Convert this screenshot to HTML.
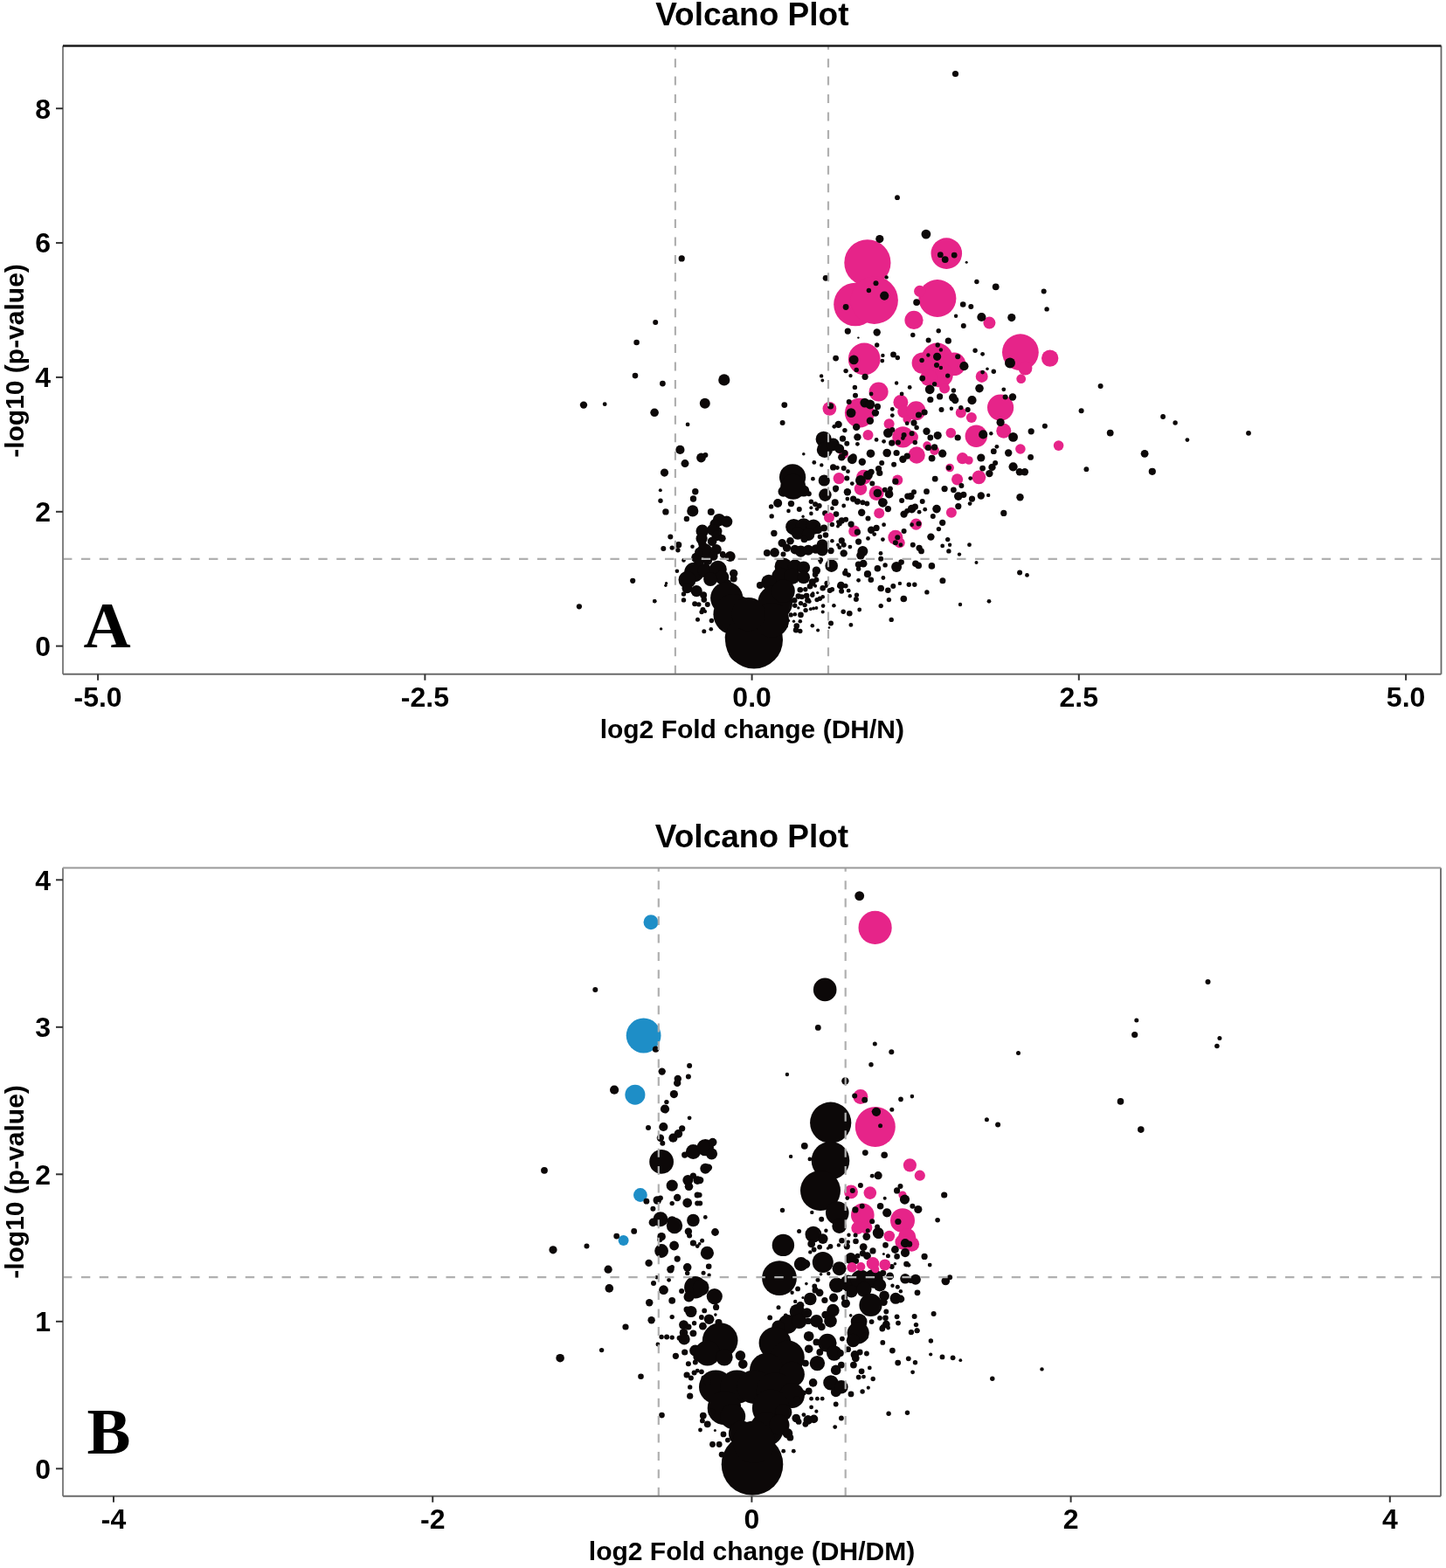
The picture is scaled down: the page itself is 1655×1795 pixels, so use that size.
<!DOCTYPE html>
<html><head><meta charset="utf-8"><title>Volcano Plot</title>
<style>
html,body{margin:0;padding:0;background:#fff;overflow:hidden;width:1655px;height:1795px;}
svg{display:block;}
.dash{stroke:#b0b0b0;stroke-width:2.2;fill:none;}
.ax{stroke:#828282;stroke-width:2;}
.axb{stroke:#6a6a6a;stroke-width:2;}
.axtb{stroke:#999;stroke-width:2;}
.axr{stroke:#666;stroke-width:1.8;}
.axt{stroke:#1a1a1a;stroke-width:2.4;}
.tk{stroke:#333;stroke-width:2;}
text{font-family:"Liberation Sans",Arial,sans-serif;fill:#000;}
.tl{font-size:32px;font-weight:bold;}
.ti{font-size:37px;font-weight:bold;}
.xl{font-size:30px;font-weight:bold;}
.let{font-family:"Liberation Serif","Times New Roman",serif;font-size:75px;font-weight:bold;}
</style></head><body>
<svg width="1655" height="1795" viewBox="0 0 1655 1795">
<circle cx="992.9" cy="300.8" r="26.6" fill="#e62489"/>
<circle cx="979" cy="348.5" r="24.8" fill="#e62489"/>
<circle cx="1000.7" cy="343.7" r="27.2" fill="#e62489"/>
<circle cx="989.2" cy="411" r="18.4" fill="#e62489"/>
<circle cx="1083.3" cy="290.1" r="17.8" fill="#e62489"/>
<circle cx="1072.9" cy="341.5" r="21.5" fill="#e62489"/>
<circle cx="1052.7" cy="333.4" r="6.6" fill="#e62489"/>
<circle cx="1046" cy="366.4" r="10.6" fill="#e62489"/>
<circle cx="1132.4" cy="369.6" r="7" fill="#e62489"/>
<circle cx="1167.9" cy="403.2" r="20.9" fill="#e62489"/>
<circle cx="1173.5" cy="421.6" r="7.9" fill="#e62489"/>
<circle cx="1201.7" cy="410.1" r="9.7" fill="#e62489"/>
<circle cx="1168.7" cy="433.7" r="5.4" fill="#e62489"/>
<circle cx="1123.7" cy="430.9" r="7" fill="#e62489"/>
<circle cx="1072.6" cy="410.7" r="18.1" fill="#e62489"/>
<circle cx="1055.7" cy="415.6" r="12.1" fill="#e62489"/>
<circle cx="1092" cy="416.8" r="13.3" fill="#e62489"/>
<circle cx="1076.3" cy="428.9" r="14.5" fill="#e62489"/>
<circle cx="1063" cy="432.5" r="9.7" fill="#e62489"/>
<circle cx="1081.1" cy="444.6" r="6" fill="#e62489"/>
<circle cx="949.4" cy="467.8" r="7.9" fill="#e62489"/>
<circle cx="983.8" cy="472.6" r="16.9" fill="#e62489"/>
<circle cx="993.5" cy="498" r="6" fill="#e62489"/>
<circle cx="1017.6" cy="485.3" r="6" fill="#e62489"/>
<circle cx="1030.9" cy="460.5" r="8.5" fill="#e62489"/>
<circle cx="1034.6" cy="471.4" r="7.3" fill="#e62489"/>
<circle cx="1038.2" cy="479.9" r="4.8" fill="#e62489"/>
<circle cx="1033.4" cy="500.4" r="12.1" fill="#e62489"/>
<circle cx="965.7" cy="519.8" r="5.4" fill="#e62489"/>
<circle cx="960.2" cy="547.6" r="6.6" fill="#e62489"/>
<circle cx="988.6" cy="546.3" r="8.5" fill="#e62489"/>
<circle cx="985" cy="559.6" r="7.3" fill="#e62489"/>
<circle cx="1003.1" cy="564.5" r="8.5" fill="#e62489"/>
<circle cx="1027.3" cy="549.4" r="6" fill="#e62489"/>
<circle cx="1006.2" cy="587.4" r="6" fill="#e62489"/>
<circle cx="977.8" cy="608" r="6.6" fill="#e62489"/>
<circle cx="1024.9" cy="615.2" r="8.5" fill="#e62489"/>
<circle cx="1029.7" cy="621.3" r="6" fill="#e62489"/>
<circle cx="1048.5" cy="470.2" r="10.9" fill="#e62489"/>
<circle cx="1043.6" cy="500.4" r="7.3" fill="#e62489"/>
<circle cx="1049.1" cy="521" r="9.7" fill="#e62489"/>
<circle cx="1061.1" cy="510.1" r="4.8" fill="#e62489"/>
<circle cx="1069.6" cy="515.5" r="5.4" fill="#e62489"/>
<circle cx="1099.8" cy="472.6" r="6" fill="#e62489"/>
<circle cx="1111.9" cy="478.1" r="6" fill="#e62489"/>
<circle cx="1145.1" cy="466.6" r="15.1" fill="#e62489"/>
<circle cx="1088.3" cy="495.6" r="5.8" fill="#e62489"/>
<circle cx="1117.3" cy="499.2" r="12.7" fill="#e62489"/>
<circle cx="1148.8" cy="493.2" r="8.5" fill="#e62489"/>
<circle cx="1167.9" cy="514" r="5.8" fill="#e62489"/>
<circle cx="1211.6" cy="510.1" r="5.8" fill="#e62489"/>
<circle cx="1101.6" cy="524.6" r="6.6" fill="#e62489"/>
<circle cx="1108.9" cy="527" r="4.8" fill="#e62489"/>
<circle cx="1087.1" cy="535.5" r="4.8" fill="#e62489"/>
<circle cx="1095.6" cy="548.8" r="6.6" fill="#e62489"/>
<circle cx="1120.4" cy="546.3" r="7.9" fill="#e62489"/>
<circle cx="1088.9" cy="586.8" r="6" fill="#e62489"/>
<circle cx="1048.5" cy="600.1" r="6.6" fill="#e62489"/>
<circle cx="1005.6" cy="448.5" r="11" fill="#e62489"/>
<circle cx="780.2" cy="295.9" r="3.6" fill="#0c0808"/>
<circle cx="750.2" cy="369" r="3" fill="#0c0808"/>
<circle cx="728.6" cy="392" r="3.3" fill="#0c0808"/>
<circle cx="727" cy="430.1" r="3.3" fill="#0c0808"/>
<circle cx="758.4" cy="439.1" r="3.4" fill="#0c0808"/>
<circle cx="828.8" cy="434.9" r="6.6" fill="#0c0808"/>
<circle cx="1006.8" cy="273.6" r="4.6" fill="#0c0808"/>
<circle cx="945.1" cy="318.3" r="3.4" fill="#0c0808"/>
<circle cx="1014.6" cy="317.4" r="2.2" fill="#0c0808"/>
<circle cx="1002.5" cy="324.3" r="3" fill="#0c0808"/>
<circle cx="994.4" cy="332.5" r="2.7" fill="#0c0808"/>
<circle cx="1012.2" cy="338.6" r="5.1" fill="#0c0808"/>
<circle cx="968.1" cy="351.5" r="3.4" fill="#0c0808"/>
<circle cx="970.3" cy="379.1" r="3.6" fill="#0c0808"/>
<circle cx="1003.7" cy="380.5" r="4.2" fill="#0c0808"/>
<circle cx="982.4" cy="386.6" r="1.2" fill="#0c0808"/>
<circle cx="1003.7" cy="395" r="2.7" fill="#0c0808"/>
<circle cx="956.6" cy="410.1" r="3.4" fill="#0c0808"/>
<circle cx="977.2" cy="411.9" r="5.4" fill="#0c0808"/>
<circle cx="1010.4" cy="406.9" r="2.2" fill="#0c0808"/>
<circle cx="1009.8" cy="413.1" r="2.4" fill="#0c0808"/>
<circle cx="1022.5" cy="405.9" r="3.4" fill="#0c0808"/>
<circle cx="1027.3" cy="409.5" r="2.7" fill="#0c0808"/>
<circle cx="968.1" cy="424.6" r="2.7" fill="#0c0808"/>
<circle cx="980.2" cy="423.4" r="2.7" fill="#0c0808"/>
<circle cx="973.5" cy="430.1" r="2.2" fill="#0c0808"/>
<circle cx="990.1" cy="431.3" r="3.6" fill="#0c0808"/>
<circle cx="940.1" cy="430.4" r="2.2" fill="#0c0808"/>
<circle cx="941.3" cy="435.5" r="1.9" fill="#0c0808"/>
<circle cx="978.4" cy="443.4" r="2.7" fill="#0c0808"/>
<circle cx="1026.1" cy="438.5" r="2.2" fill="#0c0808"/>
<circle cx="1059.9" cy="268.1" r="5.4" fill="#0c0808"/>
<circle cx="1076.3" cy="291.7" r="3.4" fill="#0c0808"/>
<circle cx="1081.7" cy="297.1" r="3.9" fill="#0c0808"/>
<circle cx="1092.2" cy="292.1" r="3.4" fill="#0c0808"/>
<circle cx="1106.2" cy="300.2" r="1.5" fill="#0c0808"/>
<circle cx="1117.9" cy="322.5" r="2.7" fill="#0c0808"/>
<circle cx="1139.7" cy="328.3" r="3.9" fill="#0c0808"/>
<circle cx="1194.7" cy="333.4" r="3" fill="#0c0808"/>
<circle cx="1198.1" cy="353.9" r="2.7" fill="#0c0808"/>
<circle cx="1049.1" cy="346.1" r="3.9" fill="#0c0808"/>
<circle cx="1102.2" cy="348.5" r="3.3" fill="#0c0808"/>
<circle cx="1111.3" cy="350.9" r="3" fill="#0c0808"/>
<circle cx="1094.1" cy="361.8" r="2.2" fill="#0c0808"/>
<circle cx="1123.4" cy="363" r="5.1" fill="#0c0808"/>
<circle cx="1157.8" cy="363.6" r="4.6" fill="#0c0808"/>
<circle cx="1102.8" cy="373" r="3" fill="#0c0808"/>
<circle cx="1074.2" cy="378.7" r="2.7" fill="#0c0808"/>
<circle cx="1044.8" cy="383.5" r="2.7" fill="#0c0808"/>
<circle cx="1062.6" cy="389.6" r="3" fill="#0c0808"/>
<circle cx="1085.3" cy="390.2" r="3.6" fill="#0c0808"/>
<circle cx="1073.2" cy="395" r="2.7" fill="#0c0808"/>
<circle cx="1076.9" cy="400.5" r="2.2" fill="#0c0808"/>
<circle cx="1072.6" cy="408.3" r="4.6" fill="#0c0808"/>
<circle cx="1062.4" cy="406.5" r="2.2" fill="#0c0808"/>
<circle cx="1055.1" cy="412.5" r="2.7" fill="#0c0808"/>
<circle cx="1096.2" cy="408.3" r="3" fill="#0c0808"/>
<circle cx="1072" cy="418" r="3" fill="#0c0808"/>
<circle cx="1076.9" cy="421" r="2.2" fill="#0c0808"/>
<circle cx="1103.4" cy="419.2" r="5.1" fill="#0c0808"/>
<circle cx="1084.7" cy="430.1" r="2.7" fill="#0c0808"/>
<circle cx="1055.7" cy="433.1" r="3.4" fill="#0c0808"/>
<circle cx="1116.1" cy="401.3" r="2.7" fill="#0c0808"/>
<circle cx="1124.6" cy="405.3" r="2.4" fill="#0c0808"/>
<circle cx="1130" cy="422.2" r="1.8" fill="#0c0808"/>
<circle cx="1137.3" cy="425.2" r="2.7" fill="#0c0808"/>
<circle cx="1124.6" cy="426.1" r="2.4" fill="#0c0808"/>
<circle cx="1156" cy="415.6" r="6" fill="#0c0808"/>
<circle cx="1064.2" cy="445.8" r="5.4" fill="#0c0808"/>
<circle cx="1069.6" cy="439.7" r="2.7" fill="#0c0808"/>
<circle cx="1091.4" cy="447" r="2.7" fill="#0c0808"/>
<circle cx="1121" cy="444.6" r="4.8" fill="#0c0808"/>
<circle cx="1148.8" cy="445.8" r="2.4" fill="#0c0808"/>
<circle cx="1041.2" cy="443.4" r="2.4" fill="#0c0808"/>
<circle cx="1259.6" cy="442.1" r="3" fill="#0c0808"/>
<circle cx="1093.5" cy="84.5" r="3.6" fill="#0c0808"/>
<circle cx="1027" cy="226.2" r="2.9" fill="#0c0808"/>
<circle cx="668" cy="463.6" r="4.2" fill="#0c0808"/>
<circle cx="692.2" cy="462.7" r="2.4" fill="#0c0808"/>
<circle cx="749.1" cy="472.3" r="4.8" fill="#0c0808"/>
<circle cx="806.8" cy="461.8" r="6" fill="#0c0808"/>
<circle cx="787.1" cy="485.9" r="2.4" fill="#0c0808"/>
<circle cx="778.4" cy="514.9" r="5.1" fill="#0c0808"/>
<circle cx="802.5" cy="524" r="5.4" fill="#0c0808"/>
<circle cx="807.4" cy="521" r="3" fill="#0c0808"/>
<circle cx="784" cy="530.6" r="4.5" fill="#0c0808"/>
<circle cx="760.5" cy="541.1" r="4.6" fill="#0c0808"/>
<circle cx="821.8" cy="607.9" r="4.7" fill="#0c0808"/>
<circle cx="818.4" cy="603.2" r="4.7" fill="#0c0808"/>
<circle cx="755.8" cy="561.3" r="2" fill="#0c0808"/>
<circle cx="756" cy="573.3" r="2.7" fill="#0c0808"/>
<circle cx="761.9" cy="585.9" r="3.7" fill="#0c0808"/>
<circle cx="795.8" cy="562.7" r="3.7" fill="#0c0808"/>
<circle cx="793.5" cy="571" r="3.7" fill="#0c0808"/>
<circle cx="792.8" cy="584.9" r="6.6" fill="#0c0808"/>
<circle cx="785.9" cy="594" r="3.2" fill="#0c0808"/>
<circle cx="813.8" cy="585.9" r="4" fill="#0c0808"/>
<circle cx="767.3" cy="614.5" r="3" fill="#0c0808"/>
<circle cx="759.3" cy="628.1" r="3" fill="#0c0808"/>
<circle cx="769.2" cy="627.1" r="2.7" fill="#0c0808"/>
<circle cx="776.6" cy="623.8" r="3.7" fill="#0c0808"/>
<circle cx="775.9" cy="629.8" r="2.7" fill="#0c0808"/>
<circle cx="792.5" cy="625.8" r="2.3" fill="#0c0808"/>
<circle cx="782.5" cy="641.4" r="2.3" fill="#0c0808"/>
<circle cx="774.9" cy="653.7" r="2.3" fill="#0c0808"/>
<circle cx="762.6" cy="667.7" r="1.7" fill="#0c0808"/>
<circle cx="823.1" cy="595.2" r="7.3" fill="#0c0808"/>
<circle cx="831.7" cy="597.2" r="6.6" fill="#0c0808"/>
<circle cx="818.4" cy="599.9" r="6" fill="#0c0808"/>
<circle cx="803.8" cy="607.9" r="7.3" fill="#0c0808"/>
<circle cx="815.8" cy="606.5" r="6.6" fill="#0c0808"/>
<circle cx="820.4" cy="613.2" r="6" fill="#0c0808"/>
<circle cx="803.1" cy="616.5" r="6.6" fill="#0c0808"/>
<circle cx="826.4" cy="616.2" r="4.3" fill="#0c0808"/>
<circle cx="815.1" cy="619.8" r="5.3" fill="#0c0808"/>
<circle cx="803.8" cy="622.5" r="4.7" fill="#0c0808"/>
<circle cx="806.5" cy="630.5" r="8.6" fill="#0c0808"/>
<circle cx="819.8" cy="629.1" r="6" fill="#0c0808"/>
<circle cx="797.2" cy="638.4" r="6" fill="#0c0808"/>
<circle cx="816.4" cy="636.4" r="5.3" fill="#0c0808"/>
<circle cx="827.7" cy="635.8" r="3.3" fill="#0c0808"/>
<circle cx="835.7" cy="637.1" r="6" fill="#0c0808"/>
<circle cx="794.5" cy="655" r="11.3" fill="#0c0808"/>
<circle cx="786.5" cy="663.7" r="10" fill="#0c0808"/>
<circle cx="806.5" cy="653.1" r="8" fill="#0c0808"/>
<circle cx="821.8" cy="651.7" r="10" fill="#0c0808"/>
<circle cx="826.4" cy="661" r="8" fill="#0c0808"/>
<circle cx="813.1" cy="663" r="8" fill="#0c0808"/>
<circle cx="839.7" cy="656.4" r="4.7" fill="#0c0808"/>
<circle cx="839.7" cy="662.4" r="4" fill="#0c0808"/>
<circle cx="833.1" cy="667.7" r="4" fill="#0c0808"/>
<circle cx="827.1" cy="634.4" r="3.3" fill="#0c0808"/>
<circle cx="809.8" cy="641.8" r="5.3" fill="#0c0808"/>
<circle cx="801.1" cy="643.1" r="4.7" fill="#0c0808"/>
<circle cx="799.8" cy="631.8" r="4.7" fill="#0c0808"/>
<circle cx="919.8" cy="562" r="6.6" fill="#0c0808"/>
<circle cx="896.5" cy="562.7" r="6" fill="#0c0808"/>
<circle cx="944.4" cy="566.6" r="7.3" fill="#0c0808"/>
<circle cx="956.3" cy="560.7" r="2.7" fill="#0c0808"/>
<circle cx="890.2" cy="576" r="5" fill="#0c0808"/>
<circle cx="905.5" cy="576.6" r="3.7" fill="#0c0808"/>
<circle cx="914.8" cy="582.9" r="3" fill="#0c0808"/>
<circle cx="882.6" cy="579.9" r="2.7" fill="#0c0808"/>
<circle cx="902.5" cy="584.9" r="2.3" fill="#0c0808"/>
<circle cx="883.2" cy="590.9" r="2.7" fill="#0c0808"/>
<circle cx="925.8" cy="565.3" r="3" fill="#0c0808"/>
<circle cx="928.4" cy="574.3" r="2.7" fill="#0c0808"/>
<circle cx="933.1" cy="577.3" r="3" fill="#0c0808"/>
<circle cx="937.7" cy="578.9" r="3" fill="#0c0808"/>
<circle cx="935.1" cy="582.6" r="2.3" fill="#0c0808"/>
<circle cx="928.4" cy="581.3" r="2" fill="#0c0808"/>
<circle cx="928.4" cy="587.9" r="2.3" fill="#0c0808"/>
<circle cx="919.1" cy="591.2" r="1.7" fill="#0c0808"/>
<circle cx="944.4" cy="587.6" r="3.3" fill="#0c0808"/>
<circle cx="957" cy="588.6" r="3.3" fill="#0c0808"/>
<circle cx="955.7" cy="575.3" r="4" fill="#0c0808"/>
<circle cx="952.4" cy="581.9" r="2.3" fill="#0c0808"/>
<circle cx="952.4" cy="600.5" r="2.7" fill="#0c0808"/>
<circle cx="959" cy="597.2" r="2" fill="#0c0808"/>
<circle cx="959" cy="602.5" r="2" fill="#0c0808"/>
<circle cx="908.5" cy="603.2" r="9.3" fill="#0c0808"/>
<circle cx="919.8" cy="602.5" r="9.3" fill="#0c0808"/>
<circle cx="931.1" cy="603.2" r="8.6" fill="#0c0808"/>
<circle cx="913.1" cy="610.5" r="7.3" fill="#0c0808"/>
<circle cx="925.1" cy="611.8" r="7.3" fill="#0c0808"/>
<circle cx="936.4" cy="606.5" r="4.7" fill="#0c0808"/>
<circle cx="943.1" cy="604.5" r="4" fill="#0c0808"/>
<circle cx="885.9" cy="610.5" r="3.7" fill="#0c0808"/>
<circle cx="904.5" cy="619.2" r="4.3" fill="#0c0808"/>
<circle cx="920.5" cy="617.2" r="4" fill="#0c0808"/>
<circle cx="938.4" cy="614.5" r="2.7" fill="#0c0808"/>
<circle cx="945" cy="612.5" r="3.3" fill="#0c0808"/>
<circle cx="952.4" cy="619.2" r="2.3" fill="#0c0808"/>
<circle cx="895.2" cy="621.8" r="4.7" fill="#0c0808"/>
<circle cx="900.5" cy="627.1" r="4.7" fill="#0c0808"/>
<circle cx="909.8" cy="629.1" r="5.3" fill="#0c0808"/>
<circle cx="916.5" cy="631.1" r="6.6" fill="#0c0808"/>
<circle cx="925.1" cy="629.8" r="6" fill="#0c0808"/>
<circle cx="933.7" cy="628.5" r="5.3" fill="#0c0808"/>
<circle cx="941.1" cy="623.8" r="6.6" fill="#0c0808"/>
<circle cx="941.1" cy="629.8" r="6.6" fill="#0c0808"/>
<circle cx="951" cy="630.5" r="3.7" fill="#0c0808"/>
<circle cx="959" cy="623.8" r="2" fill="#0c0808"/>
<circle cx="886.6" cy="632.4" r="5.3" fill="#0c0808"/>
<circle cx="877.9" cy="633.1" r="4" fill="#0c0808"/>
<circle cx="896.5" cy="634.4" r="3" fill="#0c0808"/>
<circle cx="939.1" cy="641.1" r="3" fill="#0c0808"/>
<circle cx="939.1" cy="644.1" r="1.7" fill="#0c0808"/>
<circle cx="951.7" cy="647.7" r="7.3" fill="#0c0808"/>
<circle cx="896.5" cy="648.4" r="10" fill="#0c0808"/>
<circle cx="909.8" cy="648.4" r="8" fill="#0c0808"/>
<circle cx="919.8" cy="649.7" r="7.3" fill="#0c0808"/>
<circle cx="893.2" cy="659.7" r="10" fill="#0c0808"/>
<circle cx="906.5" cy="659.7" r="9.3" fill="#0c0808"/>
<circle cx="919.8" cy="661" r="7.3" fill="#0c0808"/>
<circle cx="879.9" cy="666.3" r="8.6" fill="#0c0808"/>
<circle cx="869.9" cy="670" r="4" fill="#0c0808"/>
<circle cx="929.8" cy="666.3" r="4" fill="#0c0808"/>
<circle cx="934.4" cy="653.1" r="4.7" fill="#0c0808"/>
<circle cx="933.1" cy="657.7" r="3.3" fill="#0c0808"/>
<circle cx="934.4" cy="663.7" r="3" fill="#0c0808"/>
<circle cx="931.1" cy="669" r="2" fill="#0c0808"/>
<circle cx="946.4" cy="667.7" r="3" fill="#0c0808"/>
<circle cx="786.5" cy="673.3" r="6" fill="#0c0808"/>
<circle cx="797.2" cy="676.6" r="6.6" fill="#0c0808"/>
<circle cx="805.1" cy="681.3" r="4" fill="#0c0808"/>
<circle cx="805.8" cy="686.6" r="3.3" fill="#0c0808"/>
<circle cx="782.5" cy="680" r="2.7" fill="#0c0808"/>
<circle cx="782.5" cy="686.9" r="2.7" fill="#0c0808"/>
<circle cx="795.2" cy="691.3" r="3" fill="#0c0808"/>
<circle cx="799.8" cy="691.9" r="2.7" fill="#0c0808"/>
<circle cx="809.8" cy="691.9" r="3" fill="#0c0808"/>
<circle cx="804.5" cy="697.9" r="3" fill="#0c0808"/>
<circle cx="803.1" cy="700.6" r="2.7" fill="#0c0808"/>
<circle cx="807.1" cy="699.9" r="2" fill="#0c0808"/>
<circle cx="798.5" cy="709.2" r="2.5" fill="#0c0808"/>
<circle cx="814.4" cy="710.5" r="2.7" fill="#0c0808"/>
<circle cx="813.8" cy="720.2" r="2.3" fill="#0c0808"/>
<circle cx="805.8" cy="722.8" r="2.5" fill="#0c0808"/>
<circle cx="749.3" cy="688.3" r="2.3" fill="#0c0808"/>
<circle cx="756.6" cy="719.9" r="1.7" fill="#0c0808"/>
<circle cx="761.9" cy="670.3" r="1.7" fill="#0c0808"/>
<circle cx="841" cy="676" r="4" fill="#0c0808"/>
<circle cx="831.7" cy="684.6" r="18.6" fill="#0c0808"/>
<circle cx="839.7" cy="703.2" r="23.3" fill="#0c0808"/>
<circle cx="843" cy="729.8" r="13.3" fill="#0c0808"/>
<circle cx="849.7" cy="743.1" r="16.6" fill="#0c0808"/>
<circle cx="863" cy="732.5" r="33" fill="#0c0808"/>
<circle cx="887.2" cy="689.9" r="19.9" fill="#0c0808"/>
<circle cx="883.2" cy="709.9" r="19.9" fill="#0c0808"/>
<circle cx="856.6" cy="703.2" r="19.3" fill="#0c0808"/>
<circle cx="896.5" cy="676.6" r="13.3" fill="#0c0808"/>
<circle cx="915.8" cy="675.3" r="3.3" fill="#0c0808"/>
<circle cx="921.8" cy="674.7" r="2.7" fill="#0c0808"/>
<circle cx="927.1" cy="671.3" r="3.3" fill="#0c0808"/>
<circle cx="933.1" cy="670.7" r="2" fill="#0c0808"/>
<circle cx="941.7" cy="673.3" r="3.3" fill="#0c0808"/>
<circle cx="945.7" cy="671" r="2" fill="#0c0808"/>
<circle cx="949.7" cy="676" r="3" fill="#0c0808"/>
<circle cx="952.4" cy="674.7" r="2.7" fill="#0c0808"/>
<circle cx="959.7" cy="671.3" r="1.7" fill="#0c0808"/>
<circle cx="935.7" cy="678.6" r="1.7" fill="#0c0808"/>
<circle cx="929.8" cy="681.3" r="2.7" fill="#0c0808"/>
<circle cx="930.4" cy="679.3" r="2" fill="#0c0808"/>
<circle cx="913.8" cy="682.6" r="3.3" fill="#0c0808"/>
<circle cx="917.8" cy="683.3" r="3" fill="#0c0808"/>
<circle cx="923.1" cy="682" r="3.3" fill="#0c0808"/>
<circle cx="924.4" cy="687.3" r="3.3" fill="#0c0808"/>
<circle cx="909.2" cy="687.3" r="3.3" fill="#0c0808"/>
<circle cx="916.5" cy="690.6" r="2.7" fill="#0c0808"/>
<circle cx="921.1" cy="692.6" r="2.7" fill="#0c0808"/>
<circle cx="926.4" cy="688.6" r="2.3" fill="#0c0808"/>
<circle cx="909.8" cy="693.3" r="2.7" fill="#0c0808"/>
<circle cx="913.8" cy="695.9" r="1.7" fill="#0c0808"/>
<circle cx="935.1" cy="686.6" r="2.7" fill="#0c0808"/>
<circle cx="938.4" cy="685.3" r="2.7" fill="#0c0808"/>
<circle cx="941.7" cy="683.3" r="2.3" fill="#0c0808"/>
<circle cx="927.8" cy="697.3" r="2" fill="#0c0808"/>
<circle cx="931.1" cy="696.6" r="2" fill="#0c0808"/>
<circle cx="934.4" cy="695.9" r="2" fill="#0c0808"/>
<circle cx="922.1" cy="698.6" r="2.7" fill="#0c0808"/>
<circle cx="942.1" cy="693.6" r="2.3" fill="#0c0808"/>
<circle cx="941.7" cy="700.6" r="2" fill="#0c0808"/>
<circle cx="954.4" cy="693.3" r="2.3" fill="#0c0808"/>
<circle cx="905.2" cy="703.9" r="2.7" fill="#0c0808"/>
<circle cx="909.8" cy="703.2" r="2.3" fill="#0c0808"/>
<circle cx="916.5" cy="703.9" r="3.3" fill="#0c0808"/>
<circle cx="915.8" cy="711.2" r="2.3" fill="#0c0808"/>
<circle cx="908.5" cy="711.2" r="1.7" fill="#0c0808"/>
<circle cx="902.5" cy="710.5" r="1.7" fill="#0c0808"/>
<circle cx="911.8" cy="716.5" r="3.3" fill="#0c0808"/>
<circle cx="911.1" cy="721.2" r="3.3" fill="#0c0808"/>
<circle cx="915.8" cy="722.5" r="2.7" fill="#0c0808"/>
<circle cx="899.2" cy="716.5" r="2.7" fill="#0c0808"/>
<circle cx="929.8" cy="716.2" r="2.3" fill="#0c0808"/>
<circle cx="936.1" cy="721.5" r="2" fill="#0c0808"/>
<circle cx="951" cy="713.5" r="3" fill="#0c0808"/>
<circle cx="949" cy="718.5" r="1.3" fill="#0c0808"/>
<circle cx="950.6" cy="464.8" r="3.6" fill="#0c0808"/>
<circle cx="897.8" cy="463.6" r="3.4" fill="#0c0808"/>
<circle cx="895.6" cy="484.1" r="3" fill="#0c0808"/>
<circle cx="979" cy="452.7" r="3" fill="#0c0808"/>
<circle cx="997.1" cy="450.9" r="2.4" fill="#0c0808"/>
<circle cx="1032.1" cy="450.9" r="2.4" fill="#0c0808"/>
<circle cx="971.7" cy="459.9" r="3" fill="#0c0808"/>
<circle cx="989.8" cy="461.1" r="5.4" fill="#0c0808"/>
<circle cx="995.9" cy="463" r="5.4" fill="#0c0808"/>
<circle cx="1004.4" cy="465.4" r="3.6" fill="#0c0808"/>
<circle cx="974.1" cy="472.6" r="5.4" fill="#0c0808"/>
<circle cx="1001.9" cy="472.6" r="4.2" fill="#0c0808"/>
<circle cx="995.9" cy="481.7" r="4.2" fill="#0c0808"/>
<circle cx="980.2" cy="488.9" r="4.2" fill="#0c0808"/>
<circle cx="1038.2" cy="484.7" r="2.4" fill="#0c0808"/>
<circle cx="1021.3" cy="468.4" r="2.4" fill="#0c0808"/>
<circle cx="1021.3" cy="475.6" r="2.4" fill="#0c0808"/>
<circle cx="959.6" cy="485.9" r="4.2" fill="#0c0808"/>
<circle cx="954.8" cy="488.3" r="2.4" fill="#0c0808"/>
<circle cx="966.9" cy="492.6" r="2.7" fill="#0c0808"/>
<circle cx="981.4" cy="500.4" r="4.2" fill="#0c0808"/>
<circle cx="981.4" cy="508.3" r="2.4" fill="#0c0808"/>
<circle cx="964.5" cy="502.2" r="3.6" fill="#0c0808"/>
<circle cx="969.3" cy="507.7" r="3" fill="#0c0808"/>
<circle cx="942.7" cy="502.8" r="9.1" fill="#0c0808"/>
<circle cx="943.9" cy="514.9" r="9.1" fill="#0c0808"/>
<circle cx="953.6" cy="508.9" r="7.3" fill="#0c0808"/>
<circle cx="960.8" cy="513.7" r="5.4" fill="#0c0808"/>
<circle cx="963.3" cy="523.4" r="4.2" fill="#0c0808"/>
<circle cx="966.9" cy="518.5" r="3.6" fill="#0c0808"/>
<circle cx="919.8" cy="519.8" r="1.8" fill="#0c0808"/>
<circle cx="1003.1" cy="503.4" r="2.4" fill="#0c0808"/>
<circle cx="1011.6" cy="505.3" r="2.4" fill="#0c0808"/>
<circle cx="1016.4" cy="495.6" r="5.4" fill="#0c0808"/>
<circle cx="1021.3" cy="492" r="3" fill="#0c0808"/>
<circle cx="1020.7" cy="507.1" r="3.6" fill="#0c0808"/>
<circle cx="1027.9" cy="506.5" r="3" fill="#0c0808"/>
<circle cx="1034.6" cy="498" r="3" fill="#0c0808"/>
<circle cx="1033.4" cy="501.6" r="2.4" fill="#0c0808"/>
<circle cx="996.5" cy="519.2" r="4.8" fill="#0c0808"/>
<circle cx="1015.2" cy="518.5" r="4.8" fill="#0c0808"/>
<circle cx="1026.1" cy="518.5" r="3.6" fill="#0c0808"/>
<circle cx="975.3" cy="525.8" r="5.4" fill="#0c0808"/>
<circle cx="976.6" cy="523.4" r="4.2" fill="#0c0808"/>
<circle cx="986.8" cy="528.8" r="4.2" fill="#0c0808"/>
<circle cx="1009.2" cy="530" r="3" fill="#0c0808"/>
<circle cx="1023.1" cy="531.8" r="3" fill="#0c0808"/>
<circle cx="1033.4" cy="525.8" r="4.2" fill="#0c0808"/>
<circle cx="1038.2" cy="522.2" r="3.6" fill="#0c0808"/>
<circle cx="931.8" cy="529.4" r="2.4" fill="#0c0808"/>
<circle cx="940.3" cy="532.4" r="2.2" fill="#0c0808"/>
<circle cx="953.6" cy="534.9" r="3.6" fill="#0c0808"/>
<circle cx="958.4" cy="535.5" r="2.4" fill="#0c0808"/>
<circle cx="965.7" cy="536.1" r="3" fill="#0c0808"/>
<circle cx="970.5" cy="539.7" r="2.4" fill="#0c0808"/>
<circle cx="907.1" cy="546.3" r="15.1" fill="#0c0808"/>
<circle cx="907.7" cy="557.2" r="14.5" fill="#0c0808"/>
<circle cx="930.4" cy="548.2" r="2.4" fill="#0c0808"/>
<circle cx="943.3" cy="550" r="6.6" fill="#0c0808"/>
<circle cx="956.6" cy="559" r="3.6" fill="#0c0808"/>
<circle cx="969.3" cy="547.6" r="3" fill="#0c0808"/>
<circle cx="975.3" cy="553.6" r="2.4" fill="#0c0808"/>
<circle cx="985" cy="550" r="6" fill="#0c0808"/>
<circle cx="993.5" cy="543.9" r="5.4" fill="#0c0808"/>
<circle cx="997.1" cy="540.3" r="3.6" fill="#0c0808"/>
<circle cx="998.3" cy="553.6" r="3" fill="#0c0808"/>
<circle cx="1005.6" cy="536.7" r="3.6" fill="#0c0808"/>
<circle cx="1006.8" cy="541.5" r="3.6" fill="#0c0808"/>
<circle cx="1024.9" cy="551.2" r="3.6" fill="#0c0808"/>
<circle cx="969.9" cy="563.3" r="4.2" fill="#0c0808"/>
<circle cx="969.9" cy="571.1" r="2.4" fill="#0c0808"/>
<circle cx="976.6" cy="571.1" r="3.6" fill="#0c0808"/>
<circle cx="981.4" cy="574.1" r="3.6" fill="#0c0808"/>
<circle cx="987.4" cy="575.3" r="3" fill="#0c0808"/>
<circle cx="992.3" cy="576.6" r="3" fill="#0c0808"/>
<circle cx="1004.4" cy="564.5" r="4.8" fill="#0c0808"/>
<circle cx="1010.4" cy="575.3" r="5.4" fill="#0c0808"/>
<circle cx="1012.8" cy="560.8" r="3" fill="#0c0808"/>
<circle cx="1018.9" cy="559.6" r="3" fill="#0c0808"/>
<circle cx="1017.6" cy="565.7" r="4.8" fill="#0c0808"/>
<circle cx="1016.4" cy="582.6" r="3.6" fill="#0c0808"/>
<circle cx="1032.1" cy="572.9" r="3" fill="#0c0808"/>
<circle cx="1038.8" cy="568.1" r="3.6" fill="#0c0808"/>
<circle cx="986.2" cy="586.8" r="4.2" fill="#0c0808"/>
<circle cx="993.5" cy="593.5" r="3" fill="#0c0808"/>
<circle cx="965.7" cy="579" r="2.4" fill="#0c0808"/>
<circle cx="974.1" cy="600.1" r="3.6" fill="#0c0808"/>
<circle cx="963.3" cy="595.9" r="3.6" fill="#0c0808"/>
<circle cx="960.8" cy="599.5" r="3" fill="#0c0808"/>
<circle cx="997.1" cy="606.8" r="4.2" fill="#0c0808"/>
<circle cx="1003.1" cy="604.4" r="3.6" fill="#0c0808"/>
<circle cx="1000.7" cy="611.6" r="2.4" fill="#0c0808"/>
<circle cx="1011.6" cy="600.7" r="2.4" fill="#0c0808"/>
<circle cx="1034.6" cy="588.6" r="4.2" fill="#0c0808"/>
<circle cx="1038.2" cy="585" r="3" fill="#0c0808"/>
<circle cx="1034.6" cy="608" r="3" fill="#0c0808"/>
<circle cx="981.4" cy="609.2" r="3.6" fill="#0c0808"/>
<circle cx="982.6" cy="620.1" r="3.6" fill="#0c0808"/>
<circle cx="993.5" cy="616.4" r="2.4" fill="#0c0808"/>
<circle cx="1010.4" cy="617.6" r="2.4" fill="#0c0808"/>
<circle cx="1027.3" cy="615.2" r="3" fill="#0c0808"/>
<circle cx="1024.9" cy="621.3" r="3" fill="#0c0808"/>
<circle cx="1030.9" cy="623.7" r="2.4" fill="#0c0808"/>
<circle cx="963.3" cy="618.9" r="3.6" fill="#0c0808"/>
<circle cx="965.7" cy="623.7" r="3" fill="#0c0808"/>
<circle cx="960.8" cy="626.7" r="2.4" fill="#0c0808"/>
<circle cx="972.9" cy="626.1" r="2.4" fill="#0c0808"/>
<circle cx="987.4" cy="630.9" r="6" fill="#0c0808"/>
<circle cx="985" cy="635.8" r="4.8" fill="#0c0808"/>
<circle cx="965.7" cy="633.4" r="4.2" fill="#0c0808"/>
<circle cx="1008" cy="633.4" r="2.4" fill="#0c0808"/>
<circle cx="968.1" cy="594.7" r="3" fill="#0c0808"/>
<circle cx="1064.8" cy="457.5" r="3.6" fill="#0c0808"/>
<circle cx="1075.6" cy="453.9" r="3.6" fill="#0c0808"/>
<circle cx="1090.8" cy="455.1" r="4.8" fill="#0c0808"/>
<circle cx="1093.2" cy="458.1" r="4.2" fill="#0c0808"/>
<circle cx="1112.5" cy="458.1" r="5.1" fill="#0c0808"/>
<circle cx="1150.6" cy="454.5" r="3" fill="#0c0808"/>
<circle cx="1159" cy="454.5" r="4.2" fill="#0c0808"/>
<circle cx="1077.5" cy="469" r="3" fill="#0c0808"/>
<circle cx="1088.9" cy="467.8" r="2.2" fill="#0c0808"/>
<circle cx="1099.8" cy="466.6" r="2.7" fill="#0c0808"/>
<circle cx="1107.7" cy="469" r="3" fill="#0c0808"/>
<circle cx="1051.5" cy="475" r="3.6" fill="#0c0808"/>
<circle cx="1058.1" cy="472" r="3.6" fill="#0c0808"/>
<circle cx="1046" cy="484.1" r="3.6" fill="#0c0808"/>
<circle cx="1049.1" cy="489.5" r="2.7" fill="#0c0808"/>
<circle cx="1060.5" cy="493.8" r="4.2" fill="#0c0808"/>
<circle cx="1073.2" cy="498.6" r="4.6" fill="#0c0808"/>
<circle cx="1064.8" cy="501" r="3.4" fill="#0c0808"/>
<circle cx="1043.6" cy="496.2" r="3" fill="#0c0808"/>
<circle cx="1047.3" cy="506.5" r="2.7" fill="#0c0808"/>
<circle cx="1096.2" cy="501" r="3.6" fill="#0c0808"/>
<circle cx="1145.1" cy="483.5" r="4.6" fill="#0c0808"/>
<circle cx="1125.2" cy="497.4" r="5.1" fill="#0c0808"/>
<circle cx="1134.3" cy="496.2" r="2.2" fill="#0c0808"/>
<circle cx="1159.6" cy="500.4" r="5.4" fill="#0c0808"/>
<circle cx="1180.2" cy="493.8" r="3.6" fill="#0c0808"/>
<circle cx="1195.9" cy="487.7" r="3" fill="#0c0808"/>
<circle cx="1237.6" cy="470.2" r="3" fill="#0c0808"/>
<circle cx="1062.4" cy="512.5" r="3.6" fill="#0c0808"/>
<circle cx="1069.6" cy="511.9" r="3.6" fill="#0c0808"/>
<circle cx="1078.7" cy="519.2" r="4.6" fill="#0c0808"/>
<circle cx="1066.6" cy="524.6" r="3.9" fill="#0c0808"/>
<circle cx="1140.9" cy="511.3" r="2.4" fill="#0c0808"/>
<circle cx="1137.3" cy="516.7" r="3.4" fill="#0c0808"/>
<circle cx="1154.2" cy="518.5" r="4.2" fill="#0c0808"/>
<circle cx="1122.8" cy="524" r="4.6" fill="#0c0808"/>
<circle cx="1179.6" cy="523.4" r="3.4" fill="#0c0808"/>
<circle cx="1139.1" cy="530" r="3" fill="#0c0808"/>
<circle cx="1135.5" cy="534.9" r="4.2" fill="#0c0808"/>
<circle cx="1124.6" cy="536.1" r="3.4" fill="#0c0808"/>
<circle cx="1132.4" cy="542.1" r="4.2" fill="#0c0808"/>
<circle cx="1085.9" cy="535.5" r="3" fill="#0c0808"/>
<circle cx="1159.6" cy="534.3" r="5.1" fill="#0c0808"/>
<circle cx="1166.9" cy="540.3" r="4.2" fill="#0c0808"/>
<circle cx="1172.9" cy="540.3" r="4.2" fill="#0c0808"/>
<circle cx="1070.2" cy="548.2" r="3.4" fill="#0c0808"/>
<circle cx="1110.7" cy="547.6" r="2.4" fill="#0c0808"/>
<circle cx="1100.4" cy="556" r="3" fill="#0c0808"/>
<circle cx="1081.1" cy="559.6" r="3.6" fill="#0c0808"/>
<circle cx="1091.4" cy="560.8" r="3.4" fill="#0c0808"/>
<circle cx="1060.5" cy="562.7" r="3.4" fill="#0c0808"/>
<circle cx="1046" cy="563.3" r="3" fill="#0c0808"/>
<circle cx="1096.8" cy="568.1" r="4.8" fill="#0c0808"/>
<circle cx="1102.8" cy="566.3" r="3.6" fill="#0c0808"/>
<circle cx="1112.5" cy="571.1" r="3.6" fill="#0c0808"/>
<circle cx="1122.8" cy="567.5" r="4.2" fill="#0c0808"/>
<circle cx="1131.2" cy="566.9" r="2.2" fill="#0c0808"/>
<circle cx="1110.1" cy="576.6" r="2.4" fill="#0c0808"/>
<circle cx="1167.5" cy="569.3" r="4.2" fill="#0c0808"/>
<circle cx="1042.4" cy="568.1" r="4.2" fill="#0c0808"/>
<circle cx="1055.7" cy="574.1" r="3" fill="#0c0808"/>
<circle cx="1096.8" cy="579.6" r="3.6" fill="#0c0808"/>
<circle cx="1072" cy="582.6" r="4.8" fill="#0c0808"/>
<circle cx="1067.8" cy="591.1" r="3" fill="#0c0808"/>
<circle cx="1058.7" cy="583.2" r="2.4" fill="#0c0808"/>
<circle cx="1043.6" cy="582.6" r="4.8" fill="#0c0808"/>
<circle cx="1047.3" cy="580.2" r="3.6" fill="#0c0808"/>
<circle cx="1052.1" cy="586.2" r="2.4" fill="#0c0808"/>
<circle cx="1148.8" cy="587.4" r="3.6" fill="#0c0808"/>
<circle cx="1078.7" cy="598.3" r="3.6" fill="#0c0808"/>
<circle cx="1051.5" cy="599.5" r="3" fill="#0c0808"/>
<circle cx="1043.6" cy="600.7" r="2.4" fill="#0c0808"/>
<circle cx="1074.4" cy="605.6" r="2.7" fill="#0c0808"/>
<circle cx="1065.4" cy="614.6" r="4.2" fill="#0c0808"/>
<circle cx="1084.7" cy="617.6" r="2.7" fill="#0c0808"/>
<circle cx="1078.7" cy="624.9" r="2.4" fill="#0c0808"/>
<circle cx="1087.1" cy="623.7" r="2.2" fill="#0c0808"/>
<circle cx="1085.9" cy="630.9" r="2.7" fill="#0c0808"/>
<circle cx="1109.5" cy="623.7" r="2.4" fill="#0c0808"/>
<circle cx="1098" cy="634.6" r="2.2" fill="#0c0808"/>
<circle cx="1044.8" cy="623.7" r="3" fill="#0c0808"/>
<circle cx="1052.1" cy="627.3" r="3.6" fill="#0c0808"/>
<circle cx="1054.5" cy="630.9" r="3.4" fill="#0c0808"/>
<circle cx="1270.7" cy="495.6" r="3.9" fill="#0c0808"/>
<circle cx="1331.1" cy="477" r="2.9" fill="#0c0808"/>
<circle cx="1345.1" cy="484" r="2.7" fill="#0c0808"/>
<circle cx="1358.9" cy="503.6" r="2.4" fill="#0c0808"/>
<circle cx="1429" cy="495.8" r="2.9" fill="#0c0808"/>
<circle cx="1310.1" cy="519.3" r="4.4" fill="#0c0808"/>
<circle cx="1318.8" cy="539.8" r="4.1" fill="#0c0808"/>
<circle cx="1243.4" cy="537.2" r="2.9" fill="#0c0808"/>
<circle cx="982.6" cy="646.3" r="3.8" fill="#0c0808"/>
<circle cx="988.1" cy="645.2" r="4.4" fill="#0c0808"/>
<circle cx="982.6" cy="651.2" r="2.7" fill="#0c0808"/>
<circle cx="1008.2" cy="639.8" r="3" fill="#0c0808"/>
<circle cx="1013.1" cy="646.9" r="2.7" fill="#0c0808"/>
<circle cx="1004.4" cy="650.7" r="3.8" fill="#0c0808"/>
<circle cx="1026.1" cy="649" r="6" fill="#0c0808"/>
<circle cx="1031.6" cy="643.6" r="3.3" fill="#0c0808"/>
<circle cx="1047.9" cy="645.2" r="3.8" fill="#0c0808"/>
<circle cx="1051.2" cy="647.4" r="3.8" fill="#0c0808"/>
<circle cx="1066.4" cy="647.9" r="3.8" fill="#0c0808"/>
<circle cx="967.9" cy="652.8" r="2.2" fill="#0c0808"/>
<circle cx="967.4" cy="656.1" r="3.3" fill="#0c0808"/>
<circle cx="971.2" cy="658.3" r="2.7" fill="#0c0808"/>
<circle cx="993" cy="657.2" r="4.1" fill="#0c0808"/>
<circle cx="996.8" cy="663.7" r="3.3" fill="#0c0808"/>
<circle cx="982.6" cy="664.3" r="2.4" fill="#0c0808"/>
<circle cx="1010.9" cy="661.5" r="2.4" fill="#0c0808"/>
<circle cx="1078.9" cy="664.8" r="3.5" fill="#0c0808"/>
<circle cx="1117.5" cy="644.1" r="2" fill="#0c0808"/>
<circle cx="962.5" cy="670.2" r="4.4" fill="#0c0808"/>
<circle cx="967.9" cy="670.8" r="2.7" fill="#0c0808"/>
<circle cx="971.2" cy="676.2" r="2.4" fill="#0c0808"/>
<circle cx="963.1" cy="676.8" r="3" fill="#0c0808"/>
<circle cx="1008.2" cy="673.5" r="3.8" fill="#0c0808"/>
<circle cx="1016.3" cy="675.7" r="3.3" fill="#0c0808"/>
<circle cx="1022.3" cy="671.1" r="3" fill="#0c0808"/>
<circle cx="1029.9" cy="667.9" r="2.2" fill="#0c0808"/>
<circle cx="1040.3" cy="669.2" r="2.7" fill="#0c0808"/>
<circle cx="1046.8" cy="669.2" r="2.7" fill="#0c0808"/>
<circle cx="1060.9" cy="677.9" r="2.7" fill="#0c0808"/>
<circle cx="972.8" cy="682.2" r="2.2" fill="#0c0808"/>
<circle cx="980.5" cy="681.1" r="2.7" fill="#0c0808"/>
<circle cx="979.9" cy="686" r="3" fill="#0c0808"/>
<circle cx="1017.4" cy="686.6" r="2.7" fill="#0c0808"/>
<circle cx="1034.3" cy="685.5" r="3.8" fill="#0c0808"/>
<circle cx="1008.2" cy="693.6" r="2.7" fill="#0c0808"/>
<circle cx="1099" cy="692" r="2.2" fill="#0c0808"/>
<circle cx="983.7" cy="698" r="2.4" fill="#0c0808"/>
<circle cx="965.2" cy="700.2" r="2.7" fill="#0c0808"/>
<circle cx="972.3" cy="702.3" r="3.3" fill="#0c0808"/>
<circle cx="1020.2" cy="709.4" r="2.7" fill="#0c0808"/>
<circle cx="973.9" cy="715.4" r="2.4" fill="#0c0808"/>
<circle cx="724.2" cy="664.8" r="3.1" fill="#0c0808"/>
<circle cx="662.9" cy="694.3" r="3.1" fill="#0c0808"/>
<circle cx="749.2" cy="688.1" r="2.2" fill="#0c0808"/>
<circle cx="1167.1" cy="655.6" r="3" fill="#0c0808"/>
<circle cx="1175.5" cy="658.4" r="2.4" fill="#0c0808"/>
<circle cx="1132" cy="688.3" r="2.4" fill="#0c0808"/>
<circle cx="949" cy="592.6" r="6" fill="#e62489"/>
<line x1="772.9" y1="771.8" x2="772.9" y2="52.5" class="dash" stroke-dasharray="10 10.43" stroke-dashoffset="0"/>
<line x1="948.0" y1="771.8" x2="948.0" y2="52.5" class="dash" stroke-dasharray="10 10.43" stroke-dashoffset="0"/>
<line x1="72" y1="639.9" x2="1649.5" y2="639.9" class="dash" stroke-dasharray="10.4 10.48" stroke-dashoffset="0"/>
<line x1="72" y1="52.5" x2="72" y2="771.8" class="ax"/>
<line x1="72" y1="771.8" x2="1649.5" y2="771.8" class="axb"/>
<line x1="1649.5" y1="52.5" x2="1649.5" y2="771.8" class="axr"/>
<line x1="72" y1="52.5" x2="1649.5" y2="52.5" class="axt"/>
<line x1="112.1" y1="771.8" x2="112.1" y2="778.8" class="tk"/>
<text x="112.1" y="809.3" class="tl" text-anchor="middle">-5.0</text>
<line x1="486.4" y1="771.8" x2="486.4" y2="778.8" class="tk"/>
<text x="486.4" y="809.3" class="tl" text-anchor="middle">-2.5</text>
<line x1="860.6" y1="771.8" x2="860.6" y2="778.8" class="tk"/>
<text x="860.6" y="809.3" class="tl" text-anchor="middle">0.0</text>
<line x1="1234.8" y1="771.8" x2="1234.8" y2="778.8" class="tk"/>
<text x="1234.8" y="809.3" class="tl" text-anchor="middle">2.5</text>
<line x1="1609.1" y1="771.8" x2="1609.1" y2="778.8" class="tk"/>
<text x="1609.1" y="809.3" class="tl" text-anchor="middle">5.0</text>
<line x1="64" y1="739.6" x2="72" y2="739.6" class="tk"/>
<text x="58" y="750.9" class="tl" text-anchor="end">0</text>
<line x1="64" y1="585.8" x2="72" y2="585.8" class="tk"/>
<text x="58" y="597.1" class="tl" text-anchor="end">2</text>
<line x1="64" y1="431.9" x2="72" y2="431.9" class="tk"/>
<text x="58" y="443.2" class="tl" text-anchor="end">4</text>
<line x1="64" y1="278.1" x2="72" y2="278.1" class="tk"/>
<text x="58" y="289.4" class="tl" text-anchor="end">6</text>
<line x1="64" y1="124.2" x2="72" y2="124.2" class="tk"/>
<text x="58" y="135.5" class="tl" text-anchor="end">8</text>
<text x="860.8" y="29" class="ti" text-anchor="middle">Volcano Plot</text>
<text x="860.8" y="845" class="xl" text-anchor="middle">log2 Fold change (DH/N)</text>
<text transform="translate(27,413) rotate(-90)" x="0" y="0" class="xl" text-anchor="middle">-log10 (p-value)</text>
<text x="95.5" y="740.5" class="let">A</text>
<circle cx="745" cy="1055.8" r="8.5" fill="#1e8ec7"/>
<circle cx="736.6" cy="1185.5" r="19.9" fill="#1e8ec7"/>
<circle cx="1001.6" cy="1061.9" r="19.1" fill="#e62489"/>
<circle cx="726.9" cy="1253.2" r="11.5" fill="#1e8ec7"/>
<circle cx="732.9" cy="1368" r="7.9" fill="#1e8ec7"/>
<circle cx="984.9" cy="1255.6" r="8.5" fill="#e62489"/>
<circle cx="1001.8" cy="1290" r="23" fill="#e62489"/>
<circle cx="974" cy="1364.4" r="7.9" fill="#e62489"/>
<circle cx="995.8" cy="1365.6" r="7.3" fill="#e62489"/>
<circle cx="987.3" cy="1390.9" r="13.3" fill="#e62489"/>
<circle cx="1041.4" cy="1333.8" r="7.6" fill="#e62489"/>
<circle cx="1052.8" cy="1345.7" r="6.1" fill="#e62489"/>
<circle cx="1033" cy="1397.2" r="14" fill="#e62489"/>
<circle cx="1017.8" cy="1415" r="6.3" fill="#e62489"/>
<circle cx="1038.1" cy="1416.2" r="10.2" fill="#e62489"/>
<circle cx="1033" cy="1368" r="4.6" fill="#e62489"/>
<circle cx="713.6" cy="1419.9" r="6" fill="#1e8ec7"/>
<circle cx="1033.1" cy="1421.8" r="8.7" fill="#e62489"/>
<circle cx="981.6" cy="1405.8" r="7.3" fill="#e62489"/>
<circle cx="991.1" cy="1405.1" r="7.3" fill="#e62489"/>
<circle cx="1043.6" cy="1424.2" r="8.5" fill="#e62489"/>
<circle cx="681.3" cy="1132.9" r="3" fill="#0c0808"/>
<circle cx="983.7" cy="1025.6" r="5.4" fill="#0c0808"/>
<circle cx="944.2" cy="1132.9" r="13.3" fill="#0c0808"/>
<circle cx="936.3" cy="1176.4" r="3.4" fill="#0c0808"/>
<circle cx="750.5" cy="1201.2" r="3.6" fill="#0c0808"/>
<circle cx="703.1" cy="1247.7" r="5.1" fill="#0c0808"/>
<circle cx="757.7" cy="1226.6" r="4.2" fill="#0c0808"/>
<circle cx="789.1" cy="1219.9" r="3" fill="#0c0808"/>
<circle cx="787.9" cy="1232.6" r="3" fill="#0c0808"/>
<circle cx="775.8" cy="1235" r="4.2" fill="#0c0808"/>
<circle cx="775.2" cy="1239.9" r="4.2" fill="#0c0808"/>
<circle cx="771.4" cy="1252.6" r="4.6" fill="#0c0808"/>
<circle cx="762.9" cy="1261.6" r="2.7" fill="#0c0808"/>
<circle cx="761" cy="1269.5" r="5.1" fill="#0c0808"/>
<circle cx="789.1" cy="1279.8" r="2.4" fill="#0c0808"/>
<circle cx="742" cy="1290.9" r="3" fill="#0c0808"/>
<circle cx="759.3" cy="1290" r="5.1" fill="#0c0808"/>
<circle cx="755.9" cy="1302.7" r="4.2" fill="#0c0808"/>
<circle cx="758.3" cy="1308.8" r="3" fill="#0c0808"/>
<circle cx="770.4" cy="1302.7" r="5.1" fill="#0c0808"/>
<circle cx="776.4" cy="1297.9" r="4.8" fill="#0c0808"/>
<circle cx="780.7" cy="1291.8" r="3.6" fill="#0c0808"/>
<circle cx="757.1" cy="1329.9" r="13.9" fill="#0c0808"/>
<circle cx="793.4" cy="1318.4" r="8.5" fill="#0c0808"/>
<circle cx="783.7" cy="1322.1" r="3.6" fill="#0c0808"/>
<circle cx="623" cy="1339.8" r="3.9" fill="#0c0808"/>
<circle cx="739.9" cy="1375.2" r="3.4" fill="#0c0808"/>
<circle cx="752.3" cy="1374" r="4.8" fill="#0c0808"/>
<circle cx="755.9" cy="1371.6" r="3" fill="#0c0808"/>
<circle cx="747.4" cy="1383.7" r="3" fill="#0c0808"/>
<circle cx="769.2" cy="1357.1" r="6.6" fill="#0c0808"/>
<circle cx="787.3" cy="1351.1" r="6" fill="#0c0808"/>
<circle cx="793.4" cy="1346.2" r="3.6" fill="#0c0808"/>
<circle cx="798.2" cy="1351.1" r="4.8" fill="#0c0808"/>
<circle cx="788.5" cy="1358.3" r="4.8" fill="#0c0808"/>
<circle cx="775.2" cy="1371" r="4.2" fill="#0c0808"/>
<circle cx="769.2" cy="1377.6" r="2.7" fill="#0c0808"/>
<circle cx="786.7" cy="1377" r="5.4" fill="#0c0808"/>
<circle cx="798.2" cy="1368" r="3.6" fill="#0c0808"/>
<circle cx="798.2" cy="1377.6" r="3" fill="#0c0808"/>
<circle cx="755.9" cy="1395.8" r="8.5" fill="#0c0808"/>
<circle cx="747.4" cy="1399.4" r="4.8" fill="#0c0808"/>
<circle cx="769.2" cy="1398.2" r="6" fill="#0c0808"/>
<circle cx="793.4" cy="1397" r="7.3" fill="#0c0808"/>
<circle cx="900.9" cy="1230" r="2.2" fill="#0c0808"/>
<circle cx="967.4" cy="1237.5" r="4.2" fill="#0c0808"/>
<circle cx="997" cy="1218.7" r="2.7" fill="#0c0808"/>
<circle cx="978.2" cy="1254.4" r="3" fill="#0c0808"/>
<circle cx="989.7" cy="1259.2" r="3.4" fill="#0c0808"/>
<circle cx="999.4" cy="1272.5" r="1.8" fill="#0c0808"/>
<circle cx="950.7" cy="1285.2" r="23.6" fill="#0c0808"/>
<circle cx="950.5" cy="1328.7" r="21.8" fill="#0c0808"/>
<circle cx="939" cy="1363.1" r="23" fill="#0c0808"/>
<circle cx="958.3" cy="1388.5" r="13.3" fill="#0c0808"/>
<circle cx="920.8" cy="1311.8" r="3.9" fill="#0c0808"/>
<circle cx="905.1" cy="1323.9" r="2.2" fill="#0c0808"/>
<circle cx="926.9" cy="1326.9" r="2.4" fill="#0c0808"/>
<circle cx="990.3" cy="1319.6" r="3.4" fill="#0c0808"/>
<circle cx="998.2" cy="1346.2" r="2.4" fill="#0c0808"/>
<circle cx="984.9" cy="1357.1" r="3" fill="#0c0808"/>
<circle cx="975.8" cy="1363.1" r="3" fill="#0c0808"/>
<circle cx="969.8" cy="1371.6" r="2.4" fill="#0c0808"/>
<circle cx="978.9" cy="1384.9" r="3.6" fill="#0c0808"/>
<circle cx="986.7" cy="1380.7" r="3" fill="#0c0808"/>
<circle cx="998.2" cy="1398.2" r="3" fill="#0c0808"/>
<circle cx="895.5" cy="1385.5" r="2.7" fill="#0c0808"/>
<circle cx="929.3" cy="1387.9" r="2.2" fill="#0c0808"/>
<circle cx="940.2" cy="1395.8" r="3" fill="#0c0808"/>
<circle cx="807.3" cy="1313.6" r="9.7" fill="#0c0808"/>
<circle cx="815.7" cy="1307.6" r="4.8" fill="#0c0808"/>
<circle cx="814.5" cy="1320.8" r="6.6" fill="#0c0808"/>
<circle cx="807.3" cy="1337.8" r="6" fill="#0c0808"/>
<circle cx="810.9" cy="1336.6" r="4.2" fill="#0c0808"/>
<circle cx="801.2" cy="1351.1" r="4.2" fill="#0c0808"/>
<circle cx="800.6" cy="1368" r="3" fill="#0c0808"/>
<circle cx="801.2" cy="1377.6" r="3" fill="#0c0808"/>
<circle cx="807.3" cy="1393.4" r="2.4" fill="#0c0808"/>
<circle cx="1382.5" cy="1123.9" r="3" fill="#0c0808"/>
<circle cx="1300.8" cy="1168" r="2.5" fill="#0c0808"/>
<circle cx="1298.7" cy="1184.5" r="3.6" fill="#0c0808"/>
<circle cx="1395.9" cy="1188.6" r="2.5" fill="#0c0808"/>
<circle cx="1392.9" cy="1197.5" r="2.8" fill="#0c0808"/>
<circle cx="1165.5" cy="1205.6" r="2.5" fill="#0c0808"/>
<circle cx="1020.3" cy="1204.3" r="3" fill="#0c0808"/>
<circle cx="1001.3" cy="1194.9" r="2.5" fill="#0c0808"/>
<circle cx="1282.5" cy="1260.9" r="3.8" fill="#0c0808"/>
<circle cx="1305.8" cy="1293.1" r="3.8" fill="#0c0808"/>
<circle cx="1129.4" cy="1281.7" r="2.5" fill="#0c0808"/>
<circle cx="1142.1" cy="1287.6" r="3" fill="#0c0808"/>
<circle cx="1031" cy="1258.4" r="2.8" fill="#0c0808"/>
<circle cx="1043.9" cy="1255.1" r="2.3" fill="#0c0808"/>
<circle cx="1020.8" cy="1270.3" r="2.5" fill="#0c0808"/>
<circle cx="1003" cy="1272.8" r="5.1" fill="#0c0808"/>
<circle cx="1007.6" cy="1288.8" r="2.5" fill="#0c0808"/>
<circle cx="1012.2" cy="1322.3" r="3.8" fill="#0c0808"/>
<circle cx="1005.1" cy="1345.7" r="4.6" fill="#0c0808"/>
<circle cx="1030.5" cy="1357.9" r="3" fill="#0c0808"/>
<circle cx="1026.6" cy="1362.9" r="3.6" fill="#0c0808"/>
<circle cx="1035.5" cy="1373.1" r="5.6" fill="#0c0808"/>
<circle cx="1007.6" cy="1380.7" r="3.8" fill="#0c0808"/>
<circle cx="1012.7" cy="1371.8" r="2" fill="#0c0808"/>
<circle cx="1080.7" cy="1368" r="3.6" fill="#0c0808"/>
<circle cx="1050.8" cy="1384.5" r="4.6" fill="#0c0808"/>
<circle cx="1044.4" cy="1380.7" r="3" fill="#0c0808"/>
<circle cx="1015.2" cy="1388.3" r="5.1" fill="#0c0808"/>
<circle cx="1027.9" cy="1398.5" r="3.6" fill="#0c0808"/>
<circle cx="1073.1" cy="1396.7" r="2.8" fill="#0c0808"/>
<circle cx="1005.1" cy="1411.2" r="6.3" fill="#0c0808"/>
<circle cx="705.7" cy="1415.1" r="3.4" fill="#0c0808"/>
<circle cx="725.7" cy="1409.4" r="3.4" fill="#0c0808"/>
<circle cx="671.5" cy="1426.6" r="3" fill="#0c0808"/>
<circle cx="633" cy="1430.8" r="4.6" fill="#0c0808"/>
<circle cx="757.1" cy="1415.7" r="4.8" fill="#0c0808"/>
<circle cx="755.3" cy="1419.3" r="3" fill="#0c0808"/>
<circle cx="787.9" cy="1409.7" r="4.2" fill="#0c0808"/>
<circle cx="789.1" cy="1414.5" r="3" fill="#0c0808"/>
<circle cx="771.6" cy="1426" r="5.4" fill="#0c0808"/>
<circle cx="757.1" cy="1432" r="7.9" fill="#0c0808"/>
<circle cx="793.4" cy="1423" r="3.6" fill="#0c0808"/>
<circle cx="798.2" cy="1426.6" r="2.4" fill="#0c0808"/>
<circle cx="775.2" cy="1441.1" r="3.6" fill="#0c0808"/>
<circle cx="742.6" cy="1445.9" r="4.2" fill="#0c0808"/>
<circle cx="696.1" cy="1453.2" r="4.6" fill="#0c0808"/>
<circle cx="767.4" cy="1453.2" r="4.2" fill="#0c0808"/>
<circle cx="769.2" cy="1450.8" r="2.7" fill="#0c0808"/>
<circle cx="786.7" cy="1450.8" r="4.8" fill="#0c0808"/>
<circle cx="786.7" cy="1457.4" r="2.7" fill="#0c0808"/>
<circle cx="751.7" cy="1462.2" r="2.2" fill="#0c0808"/>
<circle cx="748" cy="1468.9" r="3" fill="#0c0808"/>
<circle cx="765.6" cy="1465.3" r="2.4" fill="#0c0808"/>
<circle cx="759.5" cy="1476.7" r="5.4" fill="#0c0808"/>
<circle cx="795.8" cy="1473.7" r="12.7" fill="#0c0808"/>
<circle cx="788.5" cy="1484.6" r="6" fill="#0c0808"/>
<circle cx="780.1" cy="1477.9" r="3" fill="#0c0808"/>
<circle cx="697.3" cy="1474.9" r="4.8" fill="#0c0808"/>
<circle cx="769.2" cy="1488.8" r="3.9" fill="#0c0808"/>
<circle cx="743.2" cy="1491.2" r="4.2" fill="#0c0808"/>
<circle cx="790.9" cy="1501.5" r="6.6" fill="#0c0808"/>
<circle cx="786.1" cy="1499.1" r="3.6" fill="#0c0808"/>
<circle cx="769.2" cy="1507.6" r="2.7" fill="#0c0808"/>
<circle cx="745.6" cy="1511.2" r="4.2" fill="#0c0808"/>
<circle cx="794.6" cy="1514.8" r="2.7" fill="#0c0808"/>
<circle cx="716" cy="1519" r="3.6" fill="#0c0808"/>
<circle cx="782.5" cy="1516.6" r="5.4" fill="#0c0808"/>
<circle cx="787.9" cy="1519" r="3.6" fill="#0c0808"/>
<circle cx="793.4" cy="1526.3" r="3.9" fill="#0c0808"/>
<circle cx="782.5" cy="1525.7" r="4.8" fill="#0c0808"/>
<circle cx="783.1" cy="1532.9" r="6.6" fill="#0c0808"/>
<circle cx="777.6" cy="1531.7" r="3" fill="#0c0808"/>
<circle cx="757.1" cy="1530.5" r="2.7" fill="#0c0808"/>
<circle cx="763.1" cy="1530.5" r="3" fill="#0c0808"/>
<circle cx="769.2" cy="1531.1" r="2.7" fill="#0c0808"/>
<circle cx="752.9" cy="1539" r="2.4" fill="#0c0808"/>
<circle cx="795.8" cy="1546.2" r="6.6" fill="#0c0808"/>
<circle cx="798.2" cy="1553.5" r="4.8" fill="#0c0808"/>
<circle cx="783.7" cy="1548" r="3.6" fill="#0c0808"/>
<circle cx="773.4" cy="1552.3" r="3.6" fill="#0c0808"/>
<circle cx="688.6" cy="1545.6" r="2.7" fill="#0c0808"/>
<circle cx="641.1" cy="1554.7" r="4.8" fill="#0c0808"/>
<circle cx="787.9" cy="1561.3" r="3" fill="#0c0808"/>
<circle cx="795.8" cy="1559.5" r="3" fill="#0c0808"/>
<circle cx="786.1" cy="1574" r="3.6" fill="#0c0808"/>
<circle cx="790.9" cy="1577.6" r="3" fill="#0c0808"/>
<circle cx="794.6" cy="1571.6" r="3" fill="#0c0808"/>
<circle cx="798.2" cy="1569.2" r="2.4" fill="#0c0808"/>
<circle cx="733.5" cy="1575.8" r="3.3" fill="#0c0808"/>
<circle cx="789.7" cy="1587.9" r="2.7" fill="#0c0808"/>
<circle cx="789.7" cy="1598.2" r="3.6" fill="#0c0808"/>
<circle cx="896.4" cy="1425.4" r="12.7" fill="#0c0808"/>
<circle cx="892" cy="1463.1" r="19.9" fill="#0c0808"/>
<circle cx="916.8" cy="1447.1" r="8" fill="#0c0808"/>
<circle cx="914.6" cy="1409.4" r="2.5" fill="#0c0808"/>
<circle cx="818.5" cy="1410.5" r="4.4" fill="#0c0808"/>
<circle cx="803.6" cy="1420.3" r="2.5" fill="#0c0808"/>
<circle cx="800.7" cy="1423.9" r="1.8" fill="#0c0808"/>
<circle cx="809.4" cy="1434.4" r="7.6" fill="#0c0808"/>
<circle cx="811.2" cy="1449.7" r="3.3" fill="#0c0808"/>
<circle cx="805.1" cy="1457.3" r="2.5" fill="#0c0808"/>
<circle cx="811.6" cy="1459.8" r="2.2" fill="#0c0808"/>
<circle cx="802.2" cy="1474" r="9.4" fill="#0c0808"/>
<circle cx="817.8" cy="1484.1" r="9.1" fill="#0c0808"/>
<circle cx="819.6" cy="1496.4" r="3.6" fill="#0c0808"/>
<circle cx="806.2" cy="1500.4" r="2.9" fill="#0c0808"/>
<circle cx="811.6" cy="1510.2" r="5.8" fill="#0c0808"/>
<circle cx="802.9" cy="1508" r="2.9" fill="#0c0808"/>
<circle cx="818.9" cy="1505.1" r="1.8" fill="#0c0808"/>
<circle cx="822.5" cy="1513.9" r="4" fill="#0c0808"/>
<circle cx="804.4" cy="1518.2" r="4.4" fill="#0c0808"/>
<circle cx="827.6" cy="1518.9" r="3.6" fill="#0c0808"/>
<circle cx="913.1" cy="1475.4" r="2.9" fill="#0c0808"/>
<circle cx="906.6" cy="1479.8" r="2.2" fill="#0c0808"/>
<circle cx="891" cy="1496.8" r="2.5" fill="#0c0808"/>
<circle cx="881.2" cy="1508.4" r="2.9" fill="#0c0808"/>
<circle cx="912.4" cy="1501.5" r="8.7" fill="#0c0808"/>
<circle cx="916" cy="1494.3" r="4.4" fill="#0c0808"/>
<circle cx="901.5" cy="1516" r="10.9" fill="#0c0808"/>
<circle cx="914.6" cy="1512.4" r="8.7" fill="#0c0808"/>
<circle cx="890.6" cy="1518.9" r="7.3" fill="#0c0808"/>
<circle cx="899.3" cy="1505.9" r="2.5" fill="#0c0808"/>
<circle cx="910.2" cy="1489.9" r="2.2" fill="#0c0808"/>
<circle cx="918.9" cy="1485.6" r="1.5" fill="#0c0808"/>
<circle cx="960.6" cy="1403.6" r="8.3" fill="#0c0808"/>
<circle cx="930.9" cy="1413.1" r="9.4" fill="#0c0808"/>
<circle cx="941.8" cy="1418.1" r="5.8" fill="#0c0808"/>
<circle cx="928.7" cy="1423.9" r="4.4" fill="#0c0808"/>
<circle cx="945.4" cy="1408.7" r="2.2" fill="#0c0808"/>
<circle cx="927.3" cy="1433.4" r="2.2" fill="#0c0808"/>
<circle cx="931.6" cy="1430.5" r="2.9" fill="#0c0808"/>
<circle cx="938.1" cy="1427.6" r="2.9" fill="#0c0808"/>
<circle cx="950.5" cy="1426.8" r="2.9" fill="#0c0808"/>
<circle cx="947.6" cy="1429" r="1.8" fill="#0c0808"/>
<circle cx="963.5" cy="1420.3" r="3.3" fill="#0c0808"/>
<circle cx="959.9" cy="1425.4" r="2.2" fill="#0c0808"/>
<circle cx="969.3" cy="1426.8" r="3.6" fill="#0c0808"/>
<circle cx="970.8" cy="1421.8" r="2.2" fill="#0c0808"/>
<circle cx="971.5" cy="1413.8" r="2.2" fill="#0c0808"/>
<circle cx="979.1" cy="1414.1" r="2.5" fill="#0c0808"/>
<circle cx="979.5" cy="1421" r="3.3" fill="#0c0808"/>
<circle cx="991.8" cy="1415.6" r="4.4" fill="#0c0808"/>
<circle cx="993.2" cy="1408.7" r="2.5" fill="#0c0808"/>
<circle cx="1004.1" cy="1404.4" r="2.9" fill="#0c0808"/>
<circle cx="1005.6" cy="1412.3" r="5.8" fill="#0c0808"/>
<circle cx="988.2" cy="1427.6" r="4.4" fill="#0c0808"/>
<circle cx="992.5" cy="1437.7" r="4.4" fill="#0c0808"/>
<circle cx="987.4" cy="1434.8" r="3.6" fill="#0c0808"/>
<circle cx="981.6" cy="1437.7" r="2.9" fill="#0c0808"/>
<circle cx="999" cy="1431.9" r="3.6" fill="#0c0808"/>
<circle cx="1013.5" cy="1425.4" r="3.3" fill="#0c0808"/>
<circle cx="1024.4" cy="1430.5" r="4.4" fill="#0c0808"/>
<circle cx="1026.6" cy="1438.4" r="3.3" fill="#0c0808"/>
<circle cx="1016.4" cy="1437.7" r="2.5" fill="#0c0808"/>
<circle cx="1011.4" cy="1435.5" r="1.5" fill="#0c0808"/>
<circle cx="1036" cy="1423.2" r="5.1" fill="#0c0808"/>
<circle cx="1036" cy="1434.1" r="5.1" fill="#0c0808"/>
<circle cx="1037.5" cy="1447.1" r="3.3" fill="#0c0808"/>
<circle cx="1024.4" cy="1446.8" r="1.8" fill="#0c0808"/>
<circle cx="1020.8" cy="1450" r="2.9" fill="#0c0808"/>
<circle cx="941.8" cy="1445" r="12" fill="#0c0808"/>
<circle cx="922.2" cy="1447.1" r="5.1" fill="#0c0808"/>
<circle cx="973.7" cy="1440.6" r="6.5" fill="#0c0808"/>
<circle cx="960.6" cy="1452.2" r="8" fill="#0c0808"/>
<circle cx="979.5" cy="1443.5" r="3.6" fill="#0c0808"/>
<circle cx="939.6" cy="1458.7" r="1.8" fill="#0c0808"/>
<circle cx="948.3" cy="1458" r="2.2" fill="#0c0808"/>
<circle cx="936" cy="1465.3" r="2.5" fill="#0c0808"/>
<circle cx="922.9" cy="1469.6" r="1.8" fill="#0c0808"/>
<circle cx="957.7" cy="1471.1" r="8.7" fill="#0c0808"/>
<circle cx="970.8" cy="1468.9" r="9.4" fill="#0c0808"/>
<circle cx="985.3" cy="1465.3" r="11.6" fill="#0c0808"/>
<circle cx="999.8" cy="1463.8" r="10.9" fill="#0c0808"/>
<circle cx="974.4" cy="1478.3" r="7.3" fill="#0c0808"/>
<circle cx="988.9" cy="1476.1" r="8.7" fill="#0c0808"/>
<circle cx="1007" cy="1471.1" r="7.3" fill="#0c0808"/>
<circle cx="1010.6" cy="1457.3" r="3.6" fill="#0c0808"/>
<circle cx="1018.6" cy="1460.9" r="4.4" fill="#0c0808"/>
<circle cx="1036" cy="1463.8" r="5.8" fill="#0c0808"/>
<circle cx="1021.5" cy="1471.8" r="2.2" fill="#0c0808"/>
<circle cx="1027.3" cy="1473.2" r="2.5" fill="#0c0808"/>
<circle cx="1030.9" cy="1478.3" r="2.2" fill="#0c0808"/>
<circle cx="1025.1" cy="1486.3" r="6.5" fill="#0c0808"/>
<circle cx="1030.9" cy="1487" r="4.4" fill="#0c0808"/>
<circle cx="996.5" cy="1493.9" r="13.1" fill="#0c0808"/>
<circle cx="1012.1" cy="1483.4" r="5.8" fill="#0c0808"/>
<circle cx="1011.4" cy="1490.6" r="4.4" fill="#0c0808"/>
<circle cx="1014.3" cy="1501.5" r="2.9" fill="#0c0808"/>
<circle cx="967.9" cy="1492.1" r="5.1" fill="#0c0808"/>
<circle cx="966.4" cy="1485.6" r="3.6" fill="#0c0808"/>
<circle cx="954.1" cy="1485.6" r="5.1" fill="#0c0808"/>
<circle cx="932.3" cy="1472.5" r="2.9" fill="#0c0808"/>
<circle cx="933.1" cy="1476.9" r="3.6" fill="#0c0808"/>
<circle cx="938.1" cy="1479.8" r="4.4" fill="#0c0808"/>
<circle cx="927.3" cy="1487" r="7.3" fill="#0c0808"/>
<circle cx="943.9" cy="1488.5" r="3.6" fill="#0c0808"/>
<circle cx="953.4" cy="1500.1" r="7.3" fill="#0c0808"/>
<circle cx="944.7" cy="1505.1" r="4.4" fill="#0c0808"/>
<circle cx="950.5" cy="1512.4" r="7.3" fill="#0c0808"/>
<circle cx="934.5" cy="1512.4" r="7.3" fill="#0c0808"/>
<circle cx="923.6" cy="1503" r="5.8" fill="#0c0808"/>
<circle cx="925.1" cy="1512.4" r="3.6" fill="#0c0808"/>
<circle cx="940.3" cy="1518.9" r="4.4" fill="#0c0808"/>
<circle cx="983.1" cy="1513.1" r="9.4" fill="#0c0808"/>
<circle cx="973.7" cy="1505.9" r="1.8" fill="#0c0808"/>
<circle cx="997.6" cy="1513.1" r="2.9" fill="#0c0808"/>
<circle cx="1007" cy="1508.8" r="2.9" fill="#0c0808"/>
<circle cx="1013.5" cy="1508.8" r="3.3" fill="#0c0808"/>
<circle cx="1014.3" cy="1516" r="4.4" fill="#0c0808"/>
<circle cx="1010.6" cy="1518.9" r="2.9" fill="#0c0808"/>
<circle cx="1026.6" cy="1507.3" r="2.9" fill="#0c0808"/>
<circle cx="1028" cy="1514.6" r="2.9" fill="#0c0808"/>
<circle cx="824.2" cy="1534.5" r="20.3" fill="#0c0808"/>
<circle cx="809.7" cy="1549" r="14.5" fill="#0c0808"/>
<circle cx="829" cy="1553.8" r="9.7" fill="#0c0808"/>
<circle cx="847.4" cy="1551.9" r="5.8" fill="#0c0808"/>
<circle cx="850.3" cy="1561.6" r="5.3" fill="#0c0808"/>
<circle cx="887" cy="1537.4" r="18.4" fill="#0c0808"/>
<circle cx="901.5" cy="1553.8" r="19.3" fill="#0c0808"/>
<circle cx="877.4" cy="1568.4" r="19.3" fill="#0c0808"/>
<circle cx="906.4" cy="1573.2" r="14.5" fill="#0c0808"/>
<circle cx="925.7" cy="1529.7" r="5.8" fill="#0c0808"/>
<circle cx="934.4" cy="1536.4" r="3.9" fill="#0c0808"/>
<circle cx="938.3" cy="1548" r="3.9" fill="#0c0808"/>
<circle cx="947" cy="1537.4" r="10.6" fill="#0c0808"/>
<circle cx="954.7" cy="1549" r="8.7" fill="#0c0808"/>
<circle cx="935.4" cy="1560.6" r="8.7" fill="#0c0808"/>
<circle cx="950.9" cy="1582.9" r="8.7" fill="#0c0808"/>
<circle cx="956.7" cy="1568.4" r="5.8" fill="#0c0808"/>
<circle cx="925.7" cy="1544.2" r="4.8" fill="#0c0808"/>
<circle cx="921.9" cy="1560.6" r="3.9" fill="#0c0808"/>
<circle cx="930.6" cy="1582.9" r="4.8" fill="#0c0808"/>
<circle cx="925.7" cy="1592.5" r="3.9" fill="#0c0808"/>
<circle cx="956.7" cy="1593.5" r="5.8" fill="#0c0808"/>
<circle cx="819.3" cy="1587.7" r="19.3" fill="#0c0808"/>
<circle cx="843.5" cy="1587.7" r="19.3" fill="#0c0808"/>
<circle cx="862.9" cy="1587.7" r="19.3" fill="#0c0808"/>
<circle cx="887" cy="1592.5" r="21.3" fill="#0c0808"/>
<circle cx="906.4" cy="1597.4" r="14.5" fill="#0c0808"/>
<circle cx="829" cy="1611.9" r="19.3" fill="#0c0808"/>
<circle cx="838.7" cy="1621.5" r="14.5" fill="#0c0808"/>
<circle cx="882.2" cy="1611.9" r="21.3" fill="#0c0808"/>
<circle cx="896.7" cy="1616.7" r="9.7" fill="#0c0808"/>
<circle cx="804.8" cy="1620.6" r="3.9" fill="#0c0808"/>
<circle cx="803.9" cy="1626.4" r="2.9" fill="#0c0808"/>
<circle cx="809.7" cy="1630.3" r="3.9" fill="#0c0808"/>
<circle cx="814.5" cy="1616.7" r="3.9" fill="#0c0808"/>
<circle cx="801.5" cy="1637" r="2.4" fill="#0c0808"/>
<circle cx="818.4" cy="1637.5" r="1.5" fill="#0c0808"/>
<circle cx="828" cy="1641.9" r="3.4" fill="#0c0808"/>
<circle cx="815.5" cy="1653.5" r="3.4" fill="#0c0808"/>
<circle cx="823.2" cy="1653.5" r="3.4" fill="#0c0808"/>
<circle cx="832.9" cy="1648.6" r="2.9" fill="#0c0808"/>
<circle cx="826.1" cy="1665.1" r="3.4" fill="#0c0808"/>
<circle cx="912.2" cy="1602.2" r="3.9" fill="#0c0808"/>
<circle cx="919.9" cy="1594.5" r="2.9" fill="#0c0808"/>
<circle cx="928.6" cy="1601.2" r="2.4" fill="#0c0808"/>
<circle cx="935.4" cy="1601.2" r="2.4" fill="#0c0808"/>
<circle cx="941.2" cy="1601.2" r="2.4" fill="#0c0808"/>
<circle cx="956.7" cy="1607.5" r="2.9" fill="#0c0808"/>
<circle cx="934.4" cy="1615.7" r="2.1" fill="#0c0808"/>
<circle cx="928.6" cy="1610.9" r="2.4" fill="#0c0808"/>
<circle cx="911.2" cy="1623.5" r="4.8" fill="#0c0808"/>
<circle cx="919.9" cy="1619.6" r="2.4" fill="#0c0808"/>
<circle cx="924.8" cy="1625.4" r="5.3" fill="#0c0808"/>
<circle cx="931.5" cy="1624.4" r="4.8" fill="#0c0808"/>
<circle cx="921.9" cy="1630.3" r="3.4" fill="#0c0808"/>
<circle cx="914.1" cy="1627.4" r="3.4" fill="#0c0808"/>
<circle cx="955.7" cy="1633.6" r="2.4" fill="#0c0808"/>
<circle cx="861" cy="1676.5" r="35.3" fill="#0c0808"/>
<circle cx="848.4" cy="1640.9" r="14.5" fill="#0c0808"/>
<circle cx="877.4" cy="1636.1" r="19.3" fill="#0c0808"/>
<circle cx="891.9" cy="1631.2" r="11.6" fill="#0c0808"/>
<circle cx="862.9" cy="1650.6" r="24.2" fill="#0c0808"/>
<circle cx="901.5" cy="1640.9" r="5.8" fill="#0c0808"/>
<circle cx="904.4" cy="1645.7" r="3.9" fill="#0c0808"/>
<circle cx="896.7" cy="1661.2" r="2.4" fill="#0c0808"/>
<circle cx="908.3" cy="1661.2" r="2.4" fill="#0c0808"/>
<circle cx="802.9" cy="1570.3" r="2.9" fill="#0c0808"/>
<circle cx="805.8" cy="1578" r="3.4" fill="#0c0808"/>
<circle cx="809.7" cy="1581.9" r="3.9" fill="#0c0808"/>
<circle cx="982.2" cy="1525.8" r="12.6" fill="#0c0808"/>
<circle cx="976.4" cy="1534.5" r="7.7" fill="#0c0808"/>
<circle cx="990" cy="1529.7" r="3.9" fill="#0c0808"/>
<circle cx="963.9" cy="1532.6" r="2.9" fill="#0c0808"/>
<circle cx="970.6" cy="1544.7" r="3.4" fill="#0c0808"/>
<circle cx="961.9" cy="1549" r="3.9" fill="#0c0808"/>
<circle cx="978.4" cy="1550.9" r="4.8" fill="#0c0808"/>
<circle cx="984.2" cy="1548" r="3.4" fill="#0c0808"/>
<circle cx="991.9" cy="1549.5" r="2.9" fill="#0c0808"/>
<circle cx="979.3" cy="1554.8" r="4.4" fill="#0c0808"/>
<circle cx="962.9" cy="1562.6" r="3.9" fill="#0c0808"/>
<circle cx="976.9" cy="1562.6" r="3.9" fill="#0c0808"/>
<circle cx="995.3" cy="1565.9" r="2.4" fill="#0c0808"/>
<circle cx="986.1" cy="1569.8" r="3.4" fill="#0c0808"/>
<circle cx="982.7" cy="1576.6" r="2.9" fill="#0c0808"/>
<circle cx="988.5" cy="1576.1" r="2.4" fill="#0c0808"/>
<circle cx="999.2" cy="1578.5" r="2.7" fill="#0c0808"/>
<circle cx="962.9" cy="1587.7" r="7.7" fill="#0c0808"/>
<circle cx="974" cy="1595.9" r="3.4" fill="#0c0808"/>
<circle cx="987.1" cy="1593" r="2.7" fill="#0c0808"/>
<circle cx="993.8" cy="1588.7" r="2.1" fill="#0c0808"/>
<circle cx="962.9" cy="1623.5" r="2.9" fill="#0c0808"/>
<circle cx="1010.3" cy="1536.9" r="2.9" fill="#0c0808"/>
<circle cx="1009.8" cy="1521" r="3.4" fill="#0c0808"/>
<circle cx="1016.6" cy="1520" r="2.4" fill="#0c0808"/>
<circle cx="1042.7" cy="1525.3" r="2.9" fill="#0c0808"/>
<circle cx="1049.5" cy="1523.4" r="2.9" fill="#0c0808"/>
<circle cx="1021.4" cy="1546.1" r="3.4" fill="#0c0808"/>
<circle cx="1027.7" cy="1560.1" r="3.4" fill="#0c0808"/>
<circle cx="1039.8" cy="1555.3" r="2.9" fill="#0c0808"/>
<circle cx="1047.5" cy="1559.7" r="2.7" fill="#0c0808"/>
<circle cx="1044.6" cy="1570.8" r="2.4" fill="#0c0808"/>
<circle cx="1065.4" cy="1535" r="2.7" fill="#0c0808"/>
<circle cx="1065.2" cy="1550.5" r="2.1" fill="#0c0808"/>
<circle cx="1078.5" cy="1553.4" r="2.9" fill="#0c0808"/>
<circle cx="1090.6" cy="1554.3" r="2.9" fill="#0c0808"/>
<circle cx="1099.3" cy="1557.2" r="1.9" fill="#0c0808"/>
<circle cx="1017.1" cy="1618.2" r="2.7" fill="#0c0808"/>
<circle cx="1038.5" cy="1617.2" r="2.7" fill="#0c0808"/>
<circle cx="1040.6" cy="1424.2" r="3.6" fill="#0c0808"/>
<circle cx="1058.1" cy="1438.4" r="3.6" fill="#0c0808"/>
<circle cx="1064.2" cy="1448.1" r="2.4" fill="#0c0808"/>
<circle cx="1040" cy="1448.3" r="2.4" fill="#0c0808"/>
<circle cx="1047.9" cy="1464.7" r="6" fill="#0c0808"/>
<circle cx="1042.4" cy="1465.3" r="3.6" fill="#0c0808"/>
<circle cx="1082.3" cy="1466.5" r="4.8" fill="#0c0808"/>
<circle cx="1087.1" cy="1462.2" r="3" fill="#0c0808"/>
<circle cx="1050" cy="1479.8" r="3.4" fill="#0c0808"/>
<circle cx="1068.6" cy="1503.9" r="3" fill="#0c0808"/>
<circle cx="1046.6" cy="1506.9" r="3" fill="#0c0808"/>
<circle cx="1048.5" cy="1516.6" r="2.7" fill="#0c0808"/>
<circle cx="1043" cy="1525.1" r="3" fill="#0c0808"/>
<circle cx="1049.7" cy="1523.3" r="3" fill="#0c0808"/>
<circle cx="1135.8" cy="1578.2" r="2.7" fill="#0c0808"/>
<circle cx="1192.5" cy="1567.4" r="2.2" fill="#0c0808"/>
<circle cx="757.5" cy="1620.1" r="3.3" fill="#0c0808"/>
<circle cx="772" cy="1403" r="9.2" fill="#0c0808"/>
<circle cx="975.1" cy="1450.8" r="5.8" fill="#e62489"/>
<circle cx="985.3" cy="1450" r="5.1" fill="#e62489"/>
<circle cx="999" cy="1446.4" r="7.3" fill="#e62489"/>
<circle cx="1012.8" cy="1447.9" r="6.5" fill="#e62489"/>
<circle cx="1001.9" cy="1452.9" r="4.4" fill="#e62489"/>
<line x1="753.8" y1="1712.8" x2="753.8" y2="993.4" class="dash" stroke-dasharray="10 10.43" stroke-dashoffset="0"/>
<line x1="967.7" y1="1712.8" x2="967.7" y2="993.4" class="dash" stroke-dasharray="10 10.43" stroke-dashoffset="0"/>
<line x1="72" y1="1462.1" x2="1649" y2="1462.1" class="dash" stroke-dasharray="10.4 10.48" stroke-dashoffset="0"/>
<line x1="72" y1="993.4" x2="72" y2="1712.8" class="ax"/>
<line x1="72" y1="1712.8" x2="1649" y2="1712.8" class="axb"/>
<line x1="1649" y1="993.4" x2="1649" y2="1712.8" class="axr"/>
<line x1="72" y1="993.4" x2="1649" y2="993.4" class="axtb"/>
<line x1="130.0" y1="1712.8" x2="130.0" y2="1719.8" class="tk"/>
<text x="130.0" y="1750.3" class="tl" text-anchor="middle">-4</text>
<line x1="495.2" y1="1712.8" x2="495.2" y2="1719.8" class="tk"/>
<text x="495.2" y="1750.3" class="tl" text-anchor="middle">-2</text>
<line x1="860.4" y1="1712.8" x2="860.4" y2="1719.8" class="tk"/>
<text x="860.4" y="1750.3" class="tl" text-anchor="middle">0</text>
<line x1="1225.6" y1="1712.8" x2="1225.6" y2="1719.8" class="tk"/>
<text x="1225.6" y="1750.3" class="tl" text-anchor="middle">2</text>
<line x1="1590.8" y1="1712.8" x2="1590.8" y2="1719.8" class="tk"/>
<text x="1590.8" y="1750.3" class="tl" text-anchor="middle">4</text>
<line x1="64" y1="1681.3" x2="72" y2="1681.3" class="tk"/>
<text x="58" y="1692.6" class="tl" text-anchor="end">0</text>
<line x1="64" y1="1512.8" x2="72" y2="1512.8" class="tk"/>
<text x="58" y="1524.1" class="tl" text-anchor="end">1</text>
<line x1="64" y1="1344.3" x2="72" y2="1344.3" class="tk"/>
<text x="58" y="1355.6" class="tl" text-anchor="end">2</text>
<line x1="64" y1="1175.8" x2="72" y2="1175.8" class="tk"/>
<text x="58" y="1187.1" class="tl" text-anchor="end">3</text>
<line x1="64" y1="1007.3" x2="72" y2="1007.3" class="tk"/>
<text x="58" y="1018.6" class="tl" text-anchor="end">4</text>
<text x="860.5" y="970" class="ti" text-anchor="middle">Volcano Plot</text>
<text x="860.5" y="1786" class="xl" text-anchor="middle">log2 Fold change (DH/DM)</text>
<text transform="translate(27,1353) rotate(-90)" x="0" y="0" class="xl" text-anchor="middle">-log10 (p-value)</text>
<text x="99.5" y="1663.5" class="let">B</text>
</svg>
</body></html>
